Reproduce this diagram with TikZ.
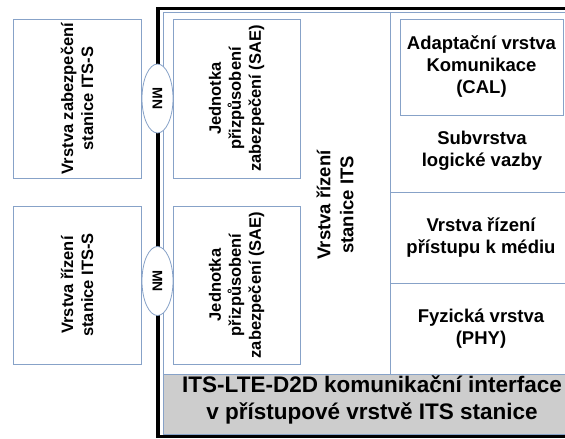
\documentclass[tikz,border=0pt]{standalone}
\usepackage{fontspec}
\setmainfont{Liberation Sans}
\usetikzlibrary{positioning,shapes.geometric}

\definecolor{edgeblue}{RGB}{135,162,200}
\definecolor{bandgray}{RGB}{205,205,205}

\tikzset{
    unitbox/.style={draw=edgeblue, line width=1pt, fill=white, align=center, inner sep=0pt,
        rotate=90, font=\bfseries\fontsize{16.5}{20}\selectfont},
    mnnode/.style={ellipse, draw=edgeblue, line width=0.8pt, fill=white, inner sep=0pt,
        rotate=-90, minimum width=69pt, minimum height=31pt, font=\bfseries\fontsize{14}{16}\selectfont},
    layertext/.style={align=center, font=\bfseries\fontsize{18.5}{22}\selectfont},
    bandtext/.style={align=center, font=\bfseries\fontsize{22.5}{27}\selectfont}
}

\begin{document}
\begin{tikzpicture}[x=1pt, y=-1pt]
    \useasboundingbox (0,0) rectangle (565,439);
    \clip (0,0) rectangle (565,439);

    % Station frame
    \draw[line width=3.5pt, black] (158,8.5) rectangle (590,436.5);
    \draw[edgeblue, line width=1pt] (163,12) rectangle (585,434);

    % Access layer band at the bottom
    \draw[edgeblue, line width=1pt, fill=bandgray] (163,374) rectangle (585,434);
    \node[bandtext] (band) at (372,400) {ITS-LTE-D2D komunikační interface\\v přístupové vrstvě ITS stanice};

    % Column dividers
    \draw[edgeblue, line width=1pt] (390,12) -- (390,374);
    \draw[edgeblue, line width=1pt] (390,192) -- (585,192);
    \draw[edgeblue, line width=1pt] (390,283) -- (585,283);

    % Left boxes outside the station
    \node[unitbox, minimum width=159pt, minimum height=128pt] (secA) at (77,98.5) {Vrstva zabezpečení\\stanice ITS-S};
    \node[unitbox, minimum width=158pt, minimum height=128pt] (mgmtA) at (77,285) {Vrstva řízení\\stanice ITS-S};

    % SAE units
    \node[unitbox, minimum width=159pt, minimum height=127pt] (saeA) at (236.5,98.5) {Jednotka\\přizpůsobení\\zabezpečení (SAE)};
    \node[unitbox, minimum width=158pt, minimum height=127pt] (saeB) at (236.5,285) {Jednotka\\přizpůsobení\\zabezpečení (SAE)};

    % MN interfaces on the frame
    \node[mnnode] (mnA) at (157.5,98.5) {MN};
    \node[mnnode] (mnB) at (157.5,281) {MN};

    % Station management
    \node[layertext, rotate=90, font=\bfseries\fontsize{18.5}{23}\selectfont] (mgmt) at (335,205) {Vrstva řízení\\stanice ITS};

    % Right column layers
    \node[draw=edgeblue, line width=1pt, fill=white, minimum width=163pt, minimum height=96pt, inner sep=0pt, layertext] (cal) at (481.5,67) {Adaptační vrstva\\Komunikace\\(CAL)};
    \node[layertext] (llc) at (482,151) {Subvrstva\\logické vazby};
    \node[layertext] (mac) at (481,237.5) {Vrstva řízení\\přístupu k médiu};
    \node[layertext] (phy) at (481,329) {Fyzická vrstva\\(PHY)};
\end{tikzpicture}
\end{document}
